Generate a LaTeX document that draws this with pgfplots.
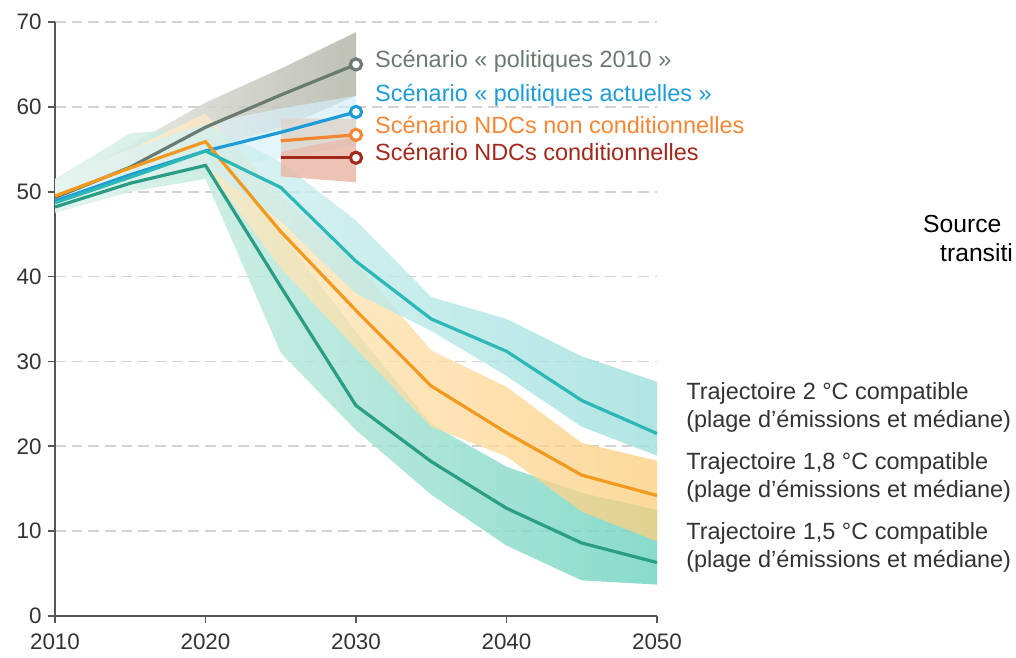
\documentclass[border=0pt]{standalone}
\usepackage{fontspec}
\setmainfont{Liberation Sans}
\usepackage{pgfplots}
\usepackage{pgfplotstable}
\pgfplotsset{compat=1.18}
\usepgfplotslibrary{fillbetween}

\definecolor{axiscol}{HTML}{555555}
\definecolor{gridcol}{HTML}{D2D2D2}
\definecolor{txtcol}{HTML}{333333}
\definecolor{c2010}{HTML}{6B7A70}
\definecolor{cact}{HTML}{1E9BD7}
\definecolor{cndcn}{HTML}{F58634}
\definecolor{cndcc}{HTML}{A2281C}
\definecolor{cteal}{HTML}{2DB8B8}
\definecolor{corange}{HTML}{F29A1F}
\definecolor{cgreen}{HTML}{2A9D84}
\definecolor{grayL}{HTML}{F2F2EE}
\definecolor{grayR}{HTML}{B3B6AA}
\definecolor{blueL}{HTML}{E6F5FB}
\definecolor{blueR}{HTML}{D2EEF8}
\definecolor{tealL}{HTML}{E3F5F5}
\definecolor{tealR}{HTML}{9DDFDD}
\definecolor{orangeL}{HTML}{FEF1DA}
\definecolor{orangeR}{HTML}{FBCF80}
\definecolor{greenL}{HTML}{DFF2EA}
\definecolor{greenR}{HTML}{74D5C2}
\definecolor{tanbox}{HTML}{DCD6CD}
\definecolor{salmon}{HTML}{E8B4A3}

\pgfplotstableread{
x lo hi
2010 47.8 51.0
2015 51.0 55.5
2020 55.0 60.5
2025 57.5 64.5
2030 61.3 68.8
}\grayband

\pgfplotstableread{
x lo hi
2010 48.0 50.5
2015 50.5 53.5
2020 52.5 58.0
2025 54.0 59.8
2030 55.5 61.3
}\blueband

\pgfplotstableread{
x lo hi
2010 47.8 51.5
2015 50.5 55.0
2020 53.0 58.0
2025 46.5 53.5
2030 38.0 46.6
2035 33.6 37.6
2040 28.3 35.0
2045 22.3 30.6
2050 18.9 27.6
}\tealband

\pgfplotstableread{
x lo hi
2010 48.0 51.5
2015 51.0 55.0
2020 53.0 59.2
2025 41.0 49.5
2030 31.5 41.6
2035 22.3 31.3
2040 18.8 27.0
2045 12.3 20.4
2050 8.8 18.3
}\orangeband

\pgfplotstableread{
x lo hi
2010 47.5 51.5
2015 50.0 56.9
2020 51.5 57.5
2025 31.0 45.0
2030 21.9 33.5
2035 14.3 22.6
2040 8.3 17.6
2045 4.2 14.5
2050 3.7 12.5
}\greenband

\pgfplotstableread{
x lo mid hi
2025 51.8 54.7 58.6
2030 51.1 56.5 58.6
}\ndcbox

\begin{document}
\begin{tikzpicture}
\begin{axis}[
  at={(0pt,0pt)}, anchor=south west,
  scale only axis, width=451.5pt, height=445.5pt,
  xmin=2010, xmax=2050, ymin=0, ymax=70,
  xtick={2010,2020,2030,2040,2050},
  ytick={0,10,20,30,40,50,60,70},
  axis lines=left,
  axis line style={-, draw=axiscol, line width=1.4pt},
  tick align=outside,
  major tick length=5.5pt,
  tick style={draw=axiscol, line width=1.2pt},
  ymajorgrids,
  grid style={gridcol, line width=1.2pt, dash pattern=on 8pt off 4.5pt},
  /pgf/number format/assume math mode=true,
  /pgf/number format/1000 sep={},
  ticklabel style={font=\fontsize{16.8}{18}\selectfont, text=txtcol},
  yticklabel style={xshift=-1pt},
  xticklabel style={yshift=-4.5pt},
  clip=false,
]
% ---- bands ----
\addplot[name path=gL, draw=none, forget plot] table[x=x,y=lo]{\grayband};
\addplot[name path=gH, draw=none, forget plot] table[x=x,y=hi]{\grayband};
\addplot[fill=none, left color=grayL, right color=grayR, fill opacity=0.85, draw=none, forget plot] fill between[of=gL and gH];

\addplot[name path=bL, draw=none, forget plot] table[x=x,y=lo]{\blueband};
\addplot[name path=bH, draw=none, forget plot] table[x=x,y=hi]{\blueband};
\addplot[fill=none, left color=blueL, right color=blueR, fill opacity=0.7, draw=none, forget plot] fill between[of=bL and bH];

\addplot[name path=grL, draw=none, forget plot] table[x=x,y=lo]{\greenband};
\addplot[name path=grH, draw=none, forget plot] table[x=x,y=hi]{\greenband};
\addplot[fill=none, left color=greenL, right color=greenR, fill opacity=0.85, draw=none, forget plot] fill between[of=grL and grH];

\addplot[name path=oL, draw=none, forget plot] table[x=x,y=lo]{\orangeband};
\addplot[name path=oH, draw=none, forget plot] table[x=x,y=hi]{\orangeband};
\addplot[fill=none, left color=orangeL, right color=orangeR, fill opacity=0.78, draw=none, forget plot] fill between[of=oL and oH];

\addplot[name path=tL, draw=none, forget plot] table[x=x,y=lo]{\tealband};
\addplot[name path=tH, draw=none, forget plot] table[x=x,y=hi]{\tealband};
\addplot[fill=none, left color=tealL, right color=tealR, fill opacity=0.8, draw=none, forget plot] fill between[of=tL and tH];

\addplot[name path=nL, draw=none, forget plot] table[x=x,y=lo]{\ndcbox};
\addplot[name path=nM, draw=none, forget plot] table[x=x,y=mid]{\ndcbox};
\addplot[name path=nH, draw=none, forget plot] table[x=x,y=hi]{\ndcbox};
\addplot[fill=tanbox, fill opacity=0.85, draw=none, forget plot] fill between[of=nM and nH];
\addplot[fill=salmon, fill opacity=0.8, draw=none, forget plot] fill between[of=nL and nM];

% ---- lines ----
\addplot[c2010, line width=2.4pt] coordinates {(2010,49.3) (2015,52.9) (2020,57.6) (2025,61.4) (2030,65.0)};
\addplot[cact, line width=2.4pt] coordinates {(2010,48.9) (2015,52.0) (2020,54.8) (2025,57.0) (2030,59.4)};
\addplot[cgreen, line width=2.4pt] coordinates {(2010,48.2) (2015,51.0) (2020,53.1) (2025,38.8) (2030,24.8) (2035,18.2) (2040,12.7) (2045,8.6) (2050,6.3)};
\addplot[corange, line width=2.4pt] coordinates {(2010,49.5) (2015,52.8) (2020,55.9) (2025,45.3) (2030,36.0) (2035,27.1) (2040,21.6) (2045,16.6) (2050,14.2)};
\addplot[cteal, line width=2.4pt] coordinates {(2010,48.7) (2015,51.7) (2020,54.8) (2025,50.5) (2030,41.8) (2035,35.0) (2040,31.2) (2045,25.4) (2050,21.5)};
\addplot[cndcn, line width=2.4pt] coordinates {(2025,56.0) (2030,56.7)};
\addplot[cndcc, line width=2.4pt] coordinates {(2025,54.0) (2030,54.0)};

% ---- markers ----
\addplot[only marks, mark=*, mark size=4.2pt, mark options={draw=c2010, fill=white, line width=2.3pt}] coordinates {(2030,65.0)};
\addplot[only marks, mark=*, mark size=4.2pt, mark options={draw=cact, fill=white, line width=2.3pt}] coordinates {(2030,59.4)};
\addplot[only marks, mark=*, mark size=4.2pt, mark options={draw=cndcn, fill=white, line width=2.3pt}] coordinates {(2030,56.7)};
\addplot[only marks, mark=*, mark size=4.2pt, mark options={draw=cndcc, fill=white, line width=2.3pt}] coordinates {(2030,54.0)};

% ---- labels ----
\begin{scope}[every node/.style={anchor=mid west, inner sep=0pt, font=\fontsize{17.6}{20}\selectfont}]
\node[text=c2010] at (axis cs:2031.26,65.0) {Scénario « politiques 2010 »};
\node[text=cact] at (axis cs:2031.26,61.0) {Scénario « politiques actuelles »};
\node[text=cndcn] at (axis cs:2031.26,57.3) {Scénario NDCs non conditionnelles};
\node[text=cndcc] at (axis cs:2031.26,54.1) {Scénario NDCs conditionnelles};
\node[text=txtcol] at (axis cs:2051.93,25.9) {Trajectoire 2 °C compatible};
\node[text=txtcol] at (axis cs:2051.93,22.6) {(plage d’émissions et médiane)};
\node[text=txtcol] at (axis cs:2051.93,17.7) {Trajectoire 1,8 °C compatible};
\node[text=txtcol] at (axis cs:2051.93,14.4) {(plage d’émissions et médiane)};
\node[text=txtcol] at (axis cs:2051.93,9.4) {Trajectoire 1,5 °C compatible};
\node[text=txtcol] at (axis cs:2051.93,6.1) {(plage d’émissions et médiane)};
\node[text=black, font=\fontsize{18.5}{20}\selectfont] at (axis cs:2067.67,45.6) {Source};
\node[text=black, font=\fontsize{18.5}{20}\selectfont] at (axis cs:2068.8,42.2) {transiti};
\end{scope}
\end{axis}
\pgfresetboundingbox
\path[use as bounding box] (-41.25pt,-30.75pt) rectangle (720.75pt,462pt);
\end{tikzpicture}
\end{document}
